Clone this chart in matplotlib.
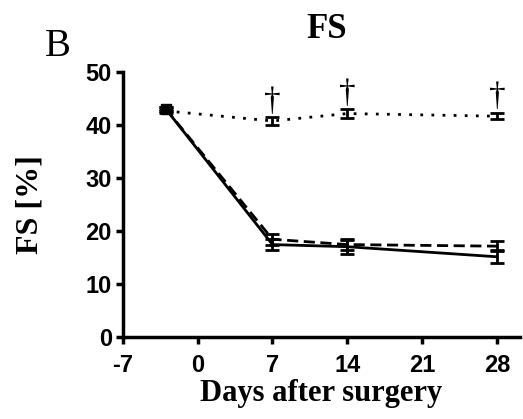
import numpy as np
import matplotlib
matplotlib.use('Agg')
import matplotlib.pyplot as plt

# Data
days = [-3, 7, 14, 28]
solid_mean = [43.0, 17.4, 17.0, 15.1]
solid_err = [0.4, 1.1, 1.3, 1.2]
dashed_mean = [43.0, 18.4, 17.4, 17.1]
dashed_err = [0.4, 1.0, 1.0, 1.0]
dotted_mean = [42.6, 40.7, 42.1, 41.6]
dotted_err = [0.4, 0.7, 0.8, 0.6]
dagger_days = [7, 14, 28]

xticks = [-7, 0, 7, 14, 21, 28]
xtick_labels = ['-7', '0', '7', '14', '21', '28']
yticks = [0, 10, 20, 30, 40, 50]

serif = 'Liberation Serif'
sans = 'Liberation Sans'

fig = plt.figure(figsize=(5.23, 4.19), dpi=100)
ax = fig.add_axes([0.235, 0.196, 0.76, 0.633])

common = dict(color='black', capsize=5, capthick=2, elinewidth=2, lw=2)
ax.errorbar(days, solid_mean, yerr=solid_err, ls='-', **common)
ax.errorbar(days, dashed_mean, yerr=dashed_err, ls=(0, (4, 2)), **common)
ax.errorbar(days, dotted_mean, yerr=dotted_err, ls=(0, (1, 3)), **common)
# square marker on baseline point
ax.plot(days[0], solid_mean[0], 's', color='black', ms=7)

for d in dagger_days:
    i = days.index(d)
    ax.text(d, dotted_mean[i] + dotted_err[i] + 0.1, '†', ha='center', va='bottom',
            fontsize=24, family=serif)

ax.set_xlim(-7, 30.2)
ax.set_ylim(0, 50)
ax.set_xticks(xticks, xtick_labels)
ax.set_yticks(yticks)
ax.spines['top'].set_visible(False)
ax.spines['right'].set_visible(False)
for s in ['left', 'bottom']:
    ax.spines[s].set_linewidth(2.5)
ax.tick_params(width=2.5, length=5, labelsize=17)
ax.tick_params(axis='x', pad=7)
ax.tick_params(axis='y', pad=3)
for lab in ax.get_xticklabels() + ax.get_yticklabels():
    lab.set_fontfamily(sans)
    lab.set_fontweight('bold')

ax.set_xlabel('Days after surgery', fontsize=22, fontweight='bold', family=serif)
ax.xaxis.set_label_coords(0.498, -0.16)
ax.set_ylabel('FS [%]', fontsize=23, fontweight='bold', family=serif, va='center')
ax.yaxis.set_label_coords(-0.234, 0.5)
fig.text(0.625, 0.93, 'FS', fontsize=25, fontweight='bold', family=serif, ha='center', va='center')
fig.text(0.11, 0.89, 'B', fontsize=28, family=serif, ha='center', va='center')

fig.savefig('out.png', dpi=100)
